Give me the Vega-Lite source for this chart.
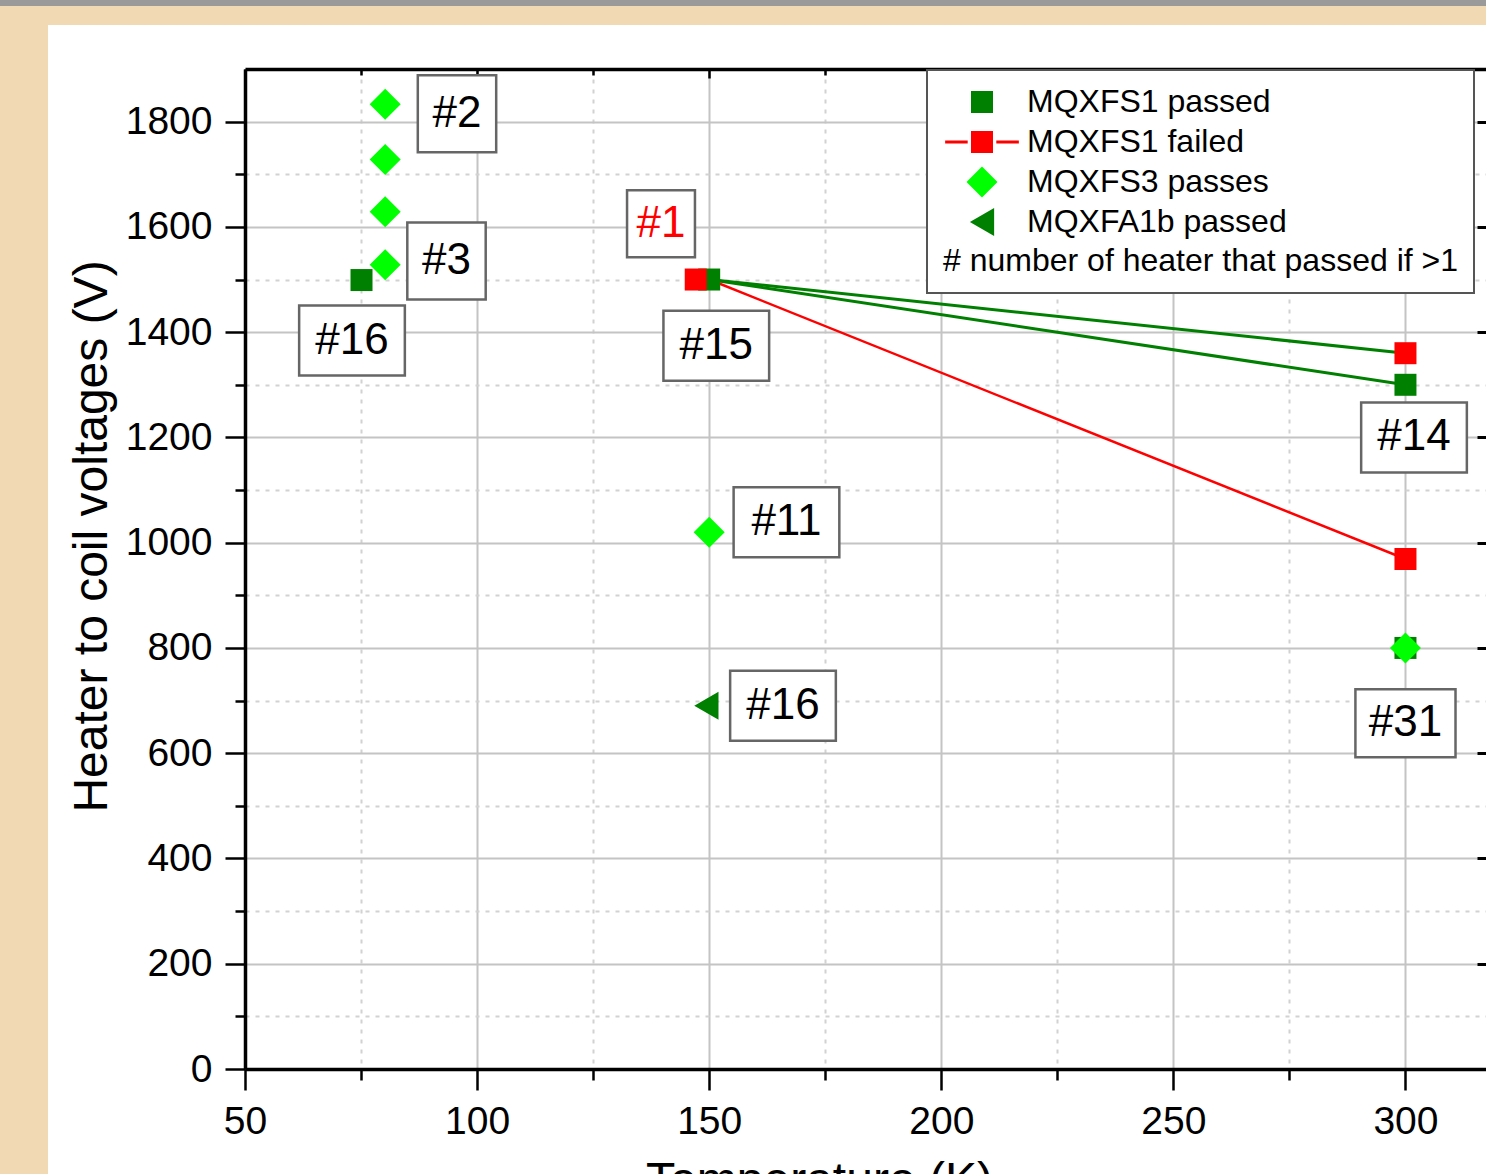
{
  "$schema": "https://vega.github.io/schema/vega-lite/v6.json",
  "width": 1241,
  "height": 1000,
  "autosize": {"type": "none"},
  "padding": {"left": 245, "top": 69, "right": 0, "bottom": 105},
  "background": "white",
  "config": {
    "view": {"stroke": null},
    "font": "Liberation Sans",
    "legend": {"strokeWidth": 2}
  },
  "datasets": {
    "points": [
      {"series": "MQXFS1 passed", "temp": 75.1, "volt": 1499},
      {"series": "MQXFS1 passed", "temp": 150, "volt": 1500},
      {"series": "MQXFS1 passed", "temp": 300, "volt": 1300},
      {"series": "MQXFS1 passed", "temp": 300, "volt": 800},
      {"series": "MQXFS3 passes", "temp": 80.2, "volt": 1833},
      {"series": "MQXFS3 passes", "temp": 80.2, "volt": 1728},
      {"series": "MQXFS3 passes", "temp": 80.2, "volt": 1629},
      {"series": "MQXFS3 passes", "temp": 80.2, "volt": 1528},
      {"series": "MQXFS3 passes", "temp": 150, "volt": 1020},
      {"series": "MQXFS3 passes", "temp": 300, "volt": 800},
      {"series": "MQXFA1b passed", "temp": 149.4, "volt": 690},
      {"series": "MQXFS1 failed", "temp": 147.1, "volt": 1500},
      {"series": "MQXFS1 failed", "temp": 300, "volt": 1360},
      {"series": "MQXFS1 failed", "temp": 300, "volt": 969}
    ],
    "lines": [
      {"line": "g1", "status": "passed", "temp": 150, "volt": 1500},
      {"line": "g1", "status": "passed", "temp": 300, "volt": 1360},
      {"line": "g2", "status": "passed", "temp": 150, "volt": 1500},
      {"line": "g2", "status": "passed", "temp": 300, "volt": 1300},
      {"line": "r1", "status": "failed", "temp": 150, "volt": 1500},
      {"line": "r1", "status": "failed", "temp": 300, "volt": 969}
    ],
    "annotations": [
      {"label": "#2", "temp": 95.67, "volt": 1815},
      {"label": "#3", "temp": 93.41, "volt": 1535},
      {"label": "#16", "temp": 73.05, "volt": 1384},
      {"label": "#1", "temp": 139.62, "volt": 1606},
      {"label": "#15", "temp": 151.53, "volt": 1374},
      {"label": "#11", "temp": 166.65, "volt": 1039},
      {"label": "#16", "temp": 165.9, "volt": 690},
      {"label": "#14", "temp": 301.84, "volt": 1200},
      {"label": "#31", "temp": 300, "volt": 657}
    ]
  },
  "layer": [
    {
      "data": {"values": [{}]},
      "mark": {"type": "rect", "color": "#f1d9b4"},
      "encoding": {
        "x": {"datum": -50, "type": "quantitative", "axis": null},
        "x2": {"datum": 7.56},
        "y": {"datum": -300, "type": "quantitative", "axis": null},
        "y2": {"datum": 1983.6}
      }
    },
    {
      "data": {"values": [{}]},
      "mark": {"type": "rect", "color": "#f1d9b4"},
      "encoding": {
        "x": {"datum": -50, "type": "quantitative", "axis": null},
        "x2": {"datum": 400},
        "y": {"datum": 1983.6, "type": "quantitative", "axis": null},
        "y2": {"datum": 2100}
      }
    },
    {
      "data": {"values": [{}]},
      "mark": {"type": "rect", "color": "#9a9a9a"},
      "encoding": {
        "x": {"datum": -50, "type": "quantitative", "axis": null},
        "x2": {"datum": 400},
        "y": {"datum": 2019.7, "type": "quantitative", "axis": null},
        "y2": {"datum": 2100}
      }
    },
    {
      "data": {"name": "lines"},
      "transform": [{"filter": "datum.status === 'passed'"}],
      "mark": {"type": "line", "color": "#008000", "strokeWidth": 3},
      "encoding": {
        "x": {
          "field": "temp", "type": "quantitative",
          "scale": {"domain": [50, 317.35], "nice": false, "zero": false},
          "axis": {
            "orient": "bottom",
            "values": [50, 75, 100, 125, 150, 175, 200, 225, 250, 275, 300],
            "labelExpr": "datum.value % 50 === 0 ? datum.label : ''",
            "labelFlush": false, "labelOverlap": false,
            "grid": true,
            "gridColor": {"condition": {"test": "datum.value % 50 === 0", "value": "#c4c4c4"}, "value": "#d2d2d2"},
            "gridDash": {"condition": {"test": "datum.value % 50 === 0", "value": []}, "value": [4, 6]},
            "gridWidth": 2,
            "tickSize": {"condition": {"test": "datum.value % 50 === 0", "value": 21}, "value": 11},
            "tickColor": "black", "tickWidth": 2.5,
            "domainColor": "black", "domainWidth": 3.5,
            "labelFont": "Liberation Sans", "labelFontSize": 39, "labelColor": "black", "labelPadding": 12,
            "title": "Temperature (K)",
            "titleFont": "Liberation Sans", "titleFontSize": 48, "titleFontWeight": "normal", "titleColor": "black",
            "titleX": 574, "titleY": 126, "titleBaseline": "alphabetic"
          }
        },
        "y": {
          "field": "volt", "type": "quantitative",
          "scale": {"domain": [0, 1900], "nice": false, "zero": false},
          "axis": {
            "orient": "left",
            "values": [0, 100, 200, 300, 400, 500, 600, 700, 800, 900, 1000, 1100, 1200, 1300, 1400, 1500, 1600, 1700, 1800],
            "format": "d",
            "labelExpr": "datum.value % 200 === 0 ? datum.label : ''",
            "labelOverlap": false, "labelFlush": false,
            "grid": true,
            "gridColor": {"condition": {"test": "datum.value % 200 === 0", "value": "#c4c4c4"}, "value": "#d2d2d2"},
            "gridDash": {"condition": {"test": "datum.value % 200 === 0", "value": []}, "value": [4, 6]},
            "gridWidth": 2,
            "tickSize": {"condition": {"test": "datum.value % 200 === 0", "value": 20}, "value": 10},
            "tickColor": "black", "tickWidth": 2.5,
            "domainColor": "black", "domainWidth": 3.5,
            "labelFont": "Liberation Sans", "labelFontSize": 39, "labelColor": "black", "labelPadding": 13,
            "title": "Heater to coil voltages (V)",
            "titleFont": "Liberation Sans", "titleFontSize": 48, "titleFontWeight": "normal", "titleColor": "black",
            "titleX": -139, "titleY": 467, "titleBaseline": "alphabetic", "titleAngle": 270
          }
        },
        "detail": {"field": "line"}
      }
    },
    {
      "data": {"name": "lines"},
      "transform": [{"filter": "datum.status === 'failed'"}],
      "mark": {"type": "line", "color": "#ff0000", "strokeWidth": 2.5},
      "encoding": {
        "x": {
          "field": "temp", "type": "quantitative",
          "axis": {
            "orient": "top",
            "values": [50, 75, 100, 125, 150, 175, 200, 225, 250, 275, 300],
            "labels": false, "grid": false, "title": null,
            "tickSize": {"condition": {"test": "datum.value % 50 === 0", "value": -9}, "value": -6},
            "tickColor": "black", "tickWidth": 2.5,
            "domainColor": "black", "domainWidth": 3.5
          }
        },
        "y": {
          "field": "volt", "type": "quantitative",
          "axis": {
            "orient": "right",
            "values": [0, 200, 400, 600, 800, 1000, 1200, 1400, 1600, 1800],
            "labels": false, "grid": false, "title": null, "domain": false,
            "tickSize": -9, "tickColor": "black", "tickWidth": 3
          }
        },
        "detail": {"field": "line"}
      }
    },
    {
      "data": {"name": "points"},
      "transform": [{"filter": "datum.series !== 'MQXFS1 failed'"}],
      "mark": {"type": "point", "filled": true, "opacity": 1, "strokeWidth": 0},
      "encoding": {
        "x": {"field": "temp", "type": "quantitative", "axis": null},
        "y": {"field": "volt", "type": "quantitative", "axis": null},
        "color": {
          "field": "series", "type": "nominal",
          "scale": {
            "domain": ["MQXFS1 passed", "MQXFS1 failed", "MQXFS3 passes", "MQXFA1b passed"],
            "range": ["#008000", "#ff0000", "#00ff00", "#008000"]
          },
          "legend": {
            "title": "# number of heater that passed if >1",
            "titleOrient": "bottom",
            "orient": "none", "legendX": 682, "legendY": 1,
            "direction": "vertical",
            "labelFont": "Liberation Sans", "labelFontSize": 32, "labelColor": "black", "labelLimit": 1000,
            "titleFont": "Liberation Sans", "titleFontSize": 32, "titleFontWeight": "normal", "titleColor": "black", "titleLimit": 1000,
            "titlePadding": 8,
            "padding": 16, "symbolOffset": 23, "labelOffset": 29, "rowPadding": 8,
            "strokeColor": "#555555", "fillColor": "white",
            "symbolStrokeWidth": 0, "symbolOpacity": 1
          }
        },
        "shape": {
          "field": "series", "type": "nominal",
          "scale": {
            "domain": ["MQXFS1 passed", "MQXFS1 failed", "MQXFS3 passes", "MQXFA1b passed"],
            "range": ["square", "M-3.35,-0.14H-1.3V0.14H-3.35Z M-1,-1H1V1H-1Z M1.3,-0.14H3.35V0.14H1.3Z", "diamond", "triangle-left"]
          }
        },
        "size": {
          "field": "series", "type": "nominal",
          "scale": {
            "type": "ordinal",
            "domain": ["MQXFS1 passed", "MQXFS1 failed", "MQXFS3 passes", "MQXFA1b passed"],
            "range": [484, 484, 961, 784]
          }
        }
      }
    },
    {
      "data": {"name": "points"},
      "transform": [{"filter": "datum.series === 'MQXFS1 failed'"}],
      "mark": {"type": "point", "filled": true, "opacity": 1, "strokeWidth": 0, "shape": "square", "size": 484, "color": "#ff0000"},
      "encoding": {
        "x": {"field": "temp", "type": "quantitative", "axis": null},
        "y": {"field": "volt", "type": "quantitative", "axis": null}
      }
    },
    {
      "data": {"name": "annotations"},
      "mark": {"type": "point", "filled": true, "fill": "white", "stroke": "#666666", "strokeWidth": 2.5, "opacity": 1, "size": 4900},
      "encoding": {
        "x": {"field": "temp", "type": "quantitative", "axis": null},
        "y": {"field": "volt", "type": "quantitative", "axis": null},
        "shape": {
          "condition": [
            {"test": "datum.label === '#1'", "value": "M-0.97,-0.96H0.97V0.96H-0.97Z"},
            {"test": "datum.label === '#31'", "value": "M-1.43,-0.97H1.43V0.97H-1.43Z"},
            {"test": "length(datum.label) > 2", "value": "M-1.51,-1H1.51V1H-1.51Z"}
          ],
          "value": "M-1.12,-1.1H1.12V1.1H-1.12Z"
        }
      }
    },
    {
      "data": {"name": "annotations"},
      "mark": {"type": "text", "font": "Liberation Sans", "fontSize": 44, "align": "center", "baseline": "middle"},
      "encoding": {
        "x": {"field": "temp", "type": "quantitative", "axis": null},
        "y": {"field": "volt", "type": "quantitative", "axis": null},
        "text": {"field": "label"},
        "color": {"condition": {"test": "datum.label === '#1'", "value": "#ff0000"}, "value": "black"}
      }
    }
  ],
  "resolve": {"axis": {"x": "independent", "y": "independent"}}
}
